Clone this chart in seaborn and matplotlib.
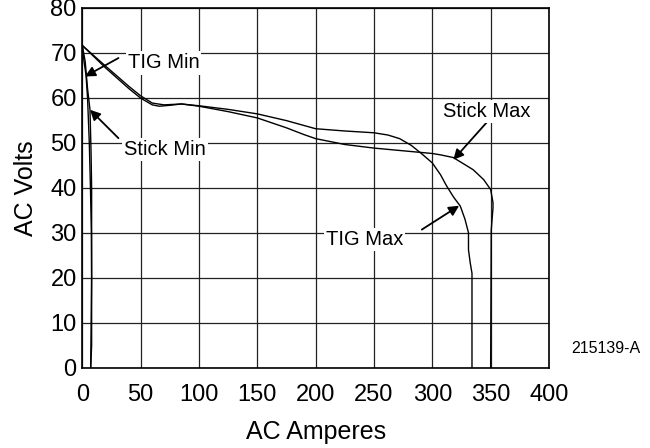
import numpy as np
import pandas as pd
import matplotlib
matplotlib.use("Agg")
import matplotlib.pyplot as plt
import seaborn as sns

# curve data (AC Amperes, AC Volts)
tig_max_a = [0, 20, 40, 50, 60, 70, 85, 100, 125, 150, 175, 200, 225, 250, 262, 272, 282,
             292, 300, 307, 312, 318, 324, 328, 331, 331, 332.5, 334, 334]
tig_max_v = [71.6, 67, 62.5, 60.4, 58.8, 58.4, 58.6, 58.2, 57.4, 56.4, 54.9, 53.1, 52.6,
             52.2, 51.7, 50.9, 49.4, 47.3, 45.5, 42.9, 40.5, 38, 35.9, 33, 30, 26.2, 23.3,
             21, 0]

stick_max_a = [0, 20, 40, 50, 60, 66, 75, 85, 100, 125, 150, 175, 190, 200, 225, 250, 275,
               300, 307, 318, 335, 344, 350, 352, 352, 350.5, 350]
stick_max_v = [71.6, 66.6, 62, 59.9, 58.4, 58.1, 58.3, 58.6, 58.1, 56.9, 55.5, 53.3, 51.8,
               50.9, 49.6, 48.8, 48.2, 47.6, 47.3, 46.7, 44, 41.8, 39.6, 36.7, 35.5, 30.6, 0]

tig_min_a = [0, 1.5, 3.2, 4.5, 6, 7, 7.8, 8, 8, 7.2]
tig_min_v = [71.6, 68, 65, 60, 50, 40, 30, 20, 5, 0]

stick_min_a = [0, 2.5, 4.5, 6.6, 7.5, 8, 8, 7.2]
stick_min_v = [71.6, 68, 62, 57.3, 48, 40, 20, 0]

# label text, text anchor, arrow tip and tail
labels = ["TIG Min", "Stick Min", "Stick Max", "TIG Max"]
label_xy = [(39, 67.7), (36, 48.4), (347, 57), (242, 28.4)]
arrow_tip = [(2.3, 64.7), (6.6, 57.3), (318, 46.2), (323, 36)]
arrow_tail = [(31, 68.8), (31, 51), (348, 54.9), (291, 30.7)]
label_ha = ["left", "left", "center", "center"]

sns.set_theme(style="white")
plt.rcParams["font.family"] = ["Liberation Sans", "DejaVu Sans"]

fig = plt.figure(figsize=(6.5, 4.48), dpi=100)
ax = fig.add_axes([0.1266, 0.179, 0.718, 0.804])

curves = [(tig_max_a, tig_max_v), (stick_max_a, stick_max_v),
          (tig_min_a, tig_min_v), (stick_min_a, stick_min_v)]
for xs, ys in curves:
    sns.lineplot(x=xs, y=ys, sort=False, estimator=None, color="black", lw=1.0, ax=ax)

ax.set_xlim(0, 400)
ax.set_ylim(0, 80)
ax.set_xticks(range(0, 401, 50))
ax.set_yticks(range(0, 81, 10))
ax.grid(True, color="#222222", lw=0.9)
ax.set_axisbelow(True)
for s in ax.spines.values():
    s.set_color("black")
    s.set_linewidth(1.2)
ax.tick_params(axis="both", labelsize=17, colors="black", direction="out", length=3, width=1)
ax.tick_params(axis="x", pad=9)
ax.tick_params(axis="y", pad=1)
ax.set_xlabel("AC Amperes", fontsize=18, color="black", labelpad=10)
ax.set_ylabel("AC Volts", fontsize=18, color="black", labelpad=9)

for txt, (tx, ty), tip, tail, ha in zip(labels, label_xy, arrow_tip, arrow_tail, label_ha):
    ax.annotate("", xy=tip, xytext=tail,
                arrowprops=dict(arrowstyle="-|>", color="black", lw=1.3,
                                mutation_scale=15, shrinkA=0, shrinkB=0))
    ax.text(tx, ty, txt, ha=ha, va="center", fontsize=14.5, color="black",
            bbox=dict(facecolor="white", edgecolor="none", pad=1.5))

fig.text(0.985, 0.222, "215139-A", ha="right", va="center", fontsize=11.5, color="black")

fig.savefig("out.png", dpi=100)
